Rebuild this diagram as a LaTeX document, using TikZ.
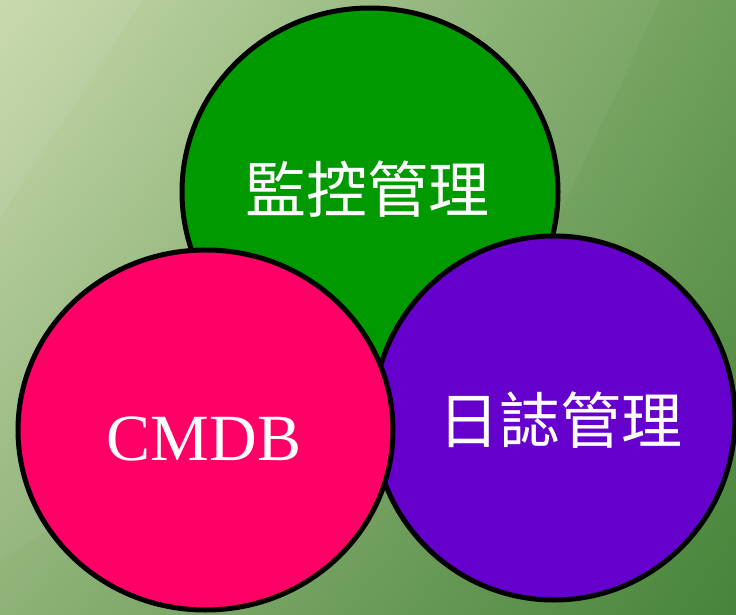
\documentclass[tikz,border=0pt]{standalone}
\usepackage{fontspec}
\setmainfont{Liberation Serif}
\newfontfamily\cjk{Noto Sans CJK TC}
\usetikzlibrary{shapes.geometric,shadings}
\definecolor{bgTL}{HTML}{C3D6A6}
\definecolor{bgTR}{HTML}{6E9F5A}
\definecolor{bgBL}{HTML}{8EB277}
\definecolor{bgBR}{HTML}{47843A}
\definecolor{cgreen}{HTML}{009900}
\definecolor{cpink}{HTML}{FF0066}
\definecolor{cpurple}{HTML}{6600CC}
\tikzset{
  bubble/.style={ellipse, draw=black, line width=5pt, inner sep=0pt},
  cjklabel/.style={text=white, font=\cjk\fontsize{61}{64}\selectfont, inner sep=0pt},
  latlabel/.style={text=white, font=\fontsize{66}{70}\selectfont, inner sep=0pt}
}
\begin{document}
\begin{tikzpicture}[x=1pt,y=-1pt]
\useasboundingbox (0,0) rectangle (736,615);
\shade[upper left=bgTL, upper right=bgTR, lower left=bgBL, lower right=bgBR] (0,0) rectangle (736,615);
\fill[white, opacity=0.07] (0,0) -- (143,0) -- (0,217) -- cycle;
\fill[white, opacity=0.04] (0,0) -- (660,0) -- (557,220) -- (0,560) -- cycle;
\node[bubble, fill=cgreen, minimum width=376pt, minimum height=368pt] (mon) at (370,192) {};
\node[bubble, fill=cpurple, minimum width=362pt, minimum height=364pt] (log) at (554,418) {};
\node[bubble, fill=cpink, minimum width=375pt, minimum height=360pt] (cmdb) at (205.5,430) {};
\node[cjklabel] (monT) at (367,189) {監控管理};
\node[cjklabel] (logT) at (560,420) {日誌管理};
\node[latlabel] (cmdbT) at (204,439) {CMDB};
\end{tikzpicture}
\end{document}
